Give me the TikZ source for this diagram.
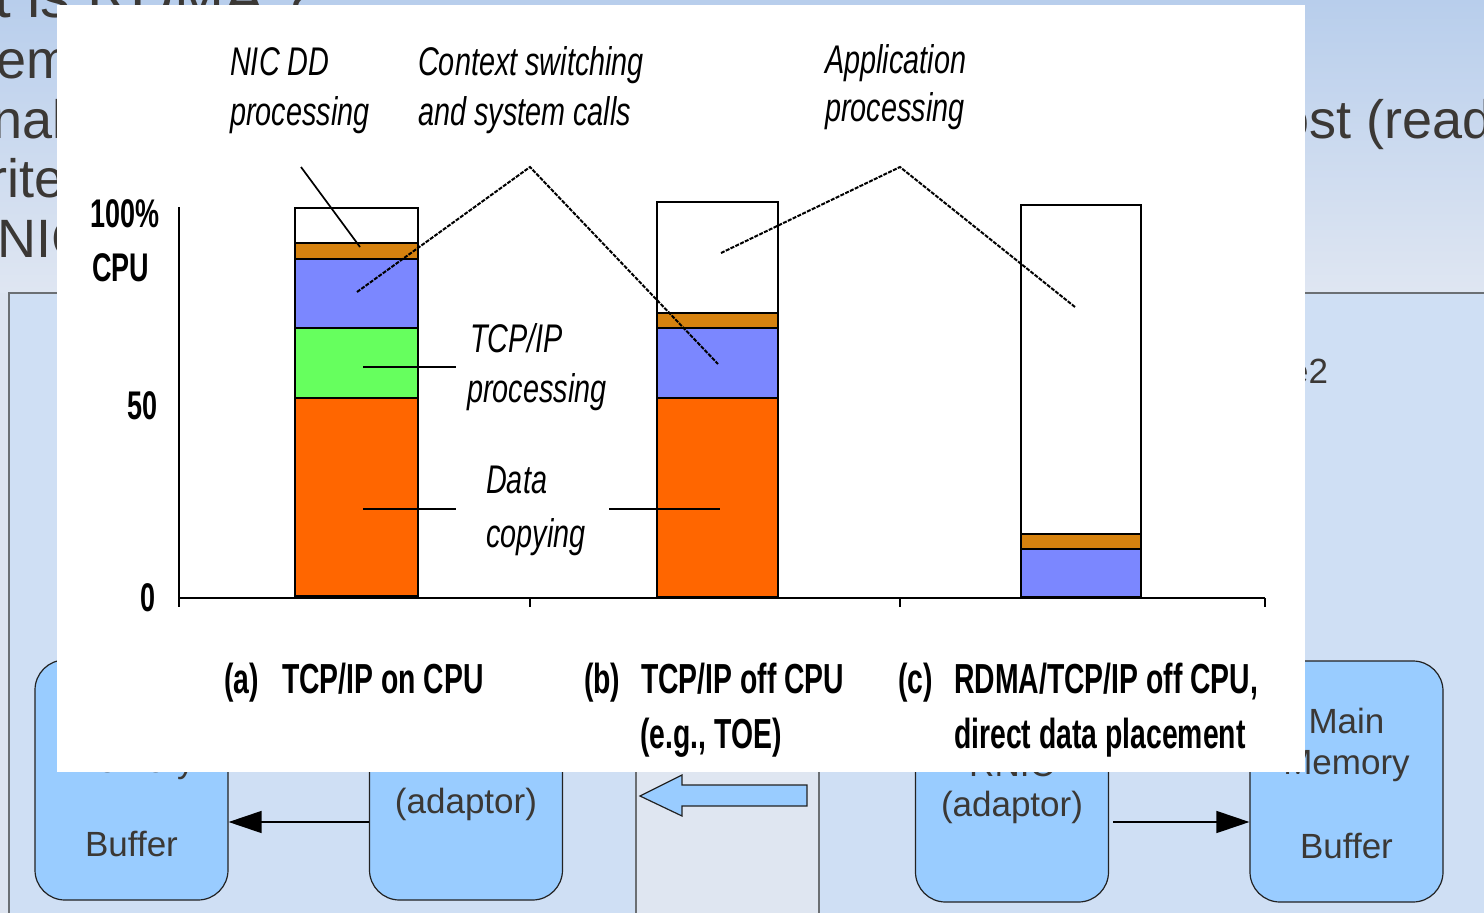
\documentclass[tikz,border=0pt]{standalone}
\usepackage{fontspec}
\setmainfont{Liberation Sans}
\newfontfamily\chartfont[FakeStretch=0.72]{Liberation Sans}
\newfontfamily\chartbf[FakeStretch=0.675]{Liberation Sans}
\usetikzlibrary{arrows.meta}

\definecolor{bgtop}{HTML}{B8CEEC}
\definecolor{bgbot}{HTML}{DFE6F2}
\definecolor{panel}{HTML}{CFDFF4}
\definecolor{sidestrip}{HTML}{DDE4F0}
\definecolor{midstrip}{HTML}{DFE6F1}
\definecolor{rulegray}{HTML}{6B6F73}
\definecolor{slidegray}{HTML}{3B3835}
\definecolor{boxblue}{HTML}{99CCFF}
\definecolor{boxline}{HTML}{222222}
\definecolor{segorange}{HTML}{D6820F}
\definecolor{segblue}{HTML}{7B87FF}
\definecolor{seggreen}{HTML}{66FF5E}
\definecolor{segred}{HTML}{FF6600}

\begin{document}
\begin{tikzpicture}[x=1pt,y=-1pt,
  slidetxt/.style={inner sep=0pt, text=slidegray, anchor=base west,
    font=\fontsize{54}{60}\selectfont},
  titletxt/.style={inner sep=0pt, text=slidegray, anchor=base west,
    font=\fontsize{60}{66}\selectfont},
  boxtxt/.style={inner sep=0pt, text=slidegray, anchor=base,
    font=\fontsize{35}{40}\selectfont},
  membox/.style={draw=boxline, fill=boxblue, line width=1.2pt,
    rounded corners=30pt, minimum width=193pt, minimum height=240pt,
    inner sep=0pt},
  flowarrow/.style={draw=black, line width=1.3pt,
    -{Triangle[length=33pt,width=22pt]}},
  itlabel/.style={inner sep=0pt, anchor=base west,
    font=\chartfont\itshape\fontsize{40}{44}\selectfont},
  bflabel/.style={inner sep=0pt, anchor=base west,
    font=\chartbf\bfseries\fontsize{42}{46}\selectfont},
  axislabel/.style={inner sep=0pt, anchor=base east,
    font=\chartbf\bfseries\fontsize{40}{44}\selectfont},
  seg/.style={draw=black, line width=2pt},
  axisline/.style={draw=black, line width=2.2pt},
  leader/.style={draw=black, line width=1.7pt},
  dleader/.style={draw=black, line width=2pt, dash pattern=on 4pt off 1.3pt}
]
\useasboundingbox (0,0) rectangle (1484,913);

% ---------- slide background ----------
\shade[top color=bgtop, bottom color=bgbot] (0,0) rectangle (1484,293);
\fill[sidestrip] (0,293) rectangle (9,913);
\fill[panel] (9,293) rectangle (1484,913);
\draw[rulegray, line width=2pt] (9,913) -- (9,293) -- (1484,293);

% central strip between the two machines
\fill[midstrip] (636,700) rectangle (819,913);
\draw[rulegray, line width=1.6pt] (636,700) -- (636,913);
\draw[rulegray, line width=1.6pt] (819,700) -- (819,913);

% ---------- slide body text ----------
\node[titletxt] (title) at (-6,17) {t is RDMA ?};
\node[slidetxt] (l1) at (-4,78) {em};
\node[slidetxt] (l2) at (-8,138) {nal};
\node[slidetxt] (l3) at (-11,197) {rite};
\node[slidetxt] (l4) at (-3,257) {NIC};
\node[slidetxt] (r2) at (1279,138) {ost (read};
\node[slidetxt, font=\fontsize{35}{40}\selectfont] (m2) at (1289,383) {e2};

% ---------- memory / adaptor boxes ----------
\node[membox] (buf1) at (131.5,780) {};
\node[membox] (nic1) at (466,780) {};
\node[membox, minimum height=242pt] (nic2) at (1012,781) {};
\node[membox, minimum height=241pt] (buf2) at (1346.5,781.5) {};

\node[boxtxt] (buf1a) at (131.5,772) {Memory};
\node[boxtxt] (buf1b) at (131.5,856) {Buffer};
\node[boxtxt] (nic1a) at (466,813) {(adaptor)};
\node[boxtxt] (nic2a) at (1012,776) {RNIC};
\node[boxtxt] (nic2b) at (1012,816) {(adaptor)};
\node[boxtxt] (buf2a) at (1346.5,733) {Main};
\node[boxtxt] (buf2b) at (1346.5,774) {Memory};
\node[boxtxt] (buf2c) at (1346.5,858) {Buffer};

\draw[flowarrow] ([yshift=-42pt]nic1.west) -- ([yshift=-42pt]buf1.east);
\draw[flowarrow] ([yshift=-41pt,xshift=4pt]nic2.east) -- ([yshift=-40.5pt]buf2.west);

% transfer direction between the hosts
\draw[fill=boxblue, draw=boxline, line width=1.2pt]
  (640,796) -- (682,775) -- (682,785) -- (807,785) -- (807,806)
  -- (682,806) -- (682,816) -- cycle;

% ---------- CPU usage chart ----------
\fill[white] (57,5) rectangle (1305,772);

% axes
\draw[axisline] (179,207) -- (179,607);
\draw[axisline] (179,598) -- (1265,598);
\foreach \tx in {530,900,1265}
  \draw[axisline] (\tx,598) -- (\tx,607);

\node[axislabel] (y100) at (160,227) {100\%};
\node[bflabel, font=\chartbf\bfseries\fontsize{40}{44}\selectfont] (ycpu) at (92,281) {CPU};
\node[axislabel] (y50) at (158,419) {50};
\node[axislabel] (y0) at (156,611) {0};

% bar (a): TCP/IP on CPU
\filldraw[seg, fill=white]      (295,208) rectangle (418,243);
\filldraw[seg, fill=segorange]  (295,243) rectangle (418,259);
\filldraw[seg, fill=segblue]    (295,259) rectangle (418,328);
\filldraw[seg, fill=seggreen]   (295,328) rectangle (418,398);
\filldraw[seg, fill=segred]     (295,398) rectangle (418,596);

% bar (b): TCP/IP off CPU
\filldraw[seg, fill=white]      (657,202) rectangle (778,313);
\filldraw[seg, fill=segorange]  (657,313) rectangle (778,328);
\filldraw[seg, fill=segblue]    (657,328) rectangle (778,398);
\filldraw[seg, fill=segred]     (657,398) rectangle (778,597);

% bar (c): RDMA/TCP/IP off CPU
\filldraw[seg, fill=white]      (1021,205) rectangle (1141,534);
\filldraw[seg, fill=segorange]  (1021,534) rectangle (1141,549);
\filldraw[seg, fill=segblue]    (1021,549) rectangle (1141,597);

% leader lines from the labels to the bar segments
\coordinate (nicTop) at (301,167);
\coordinate (nicEnd) at (360,247);
\coordinate (ctxA) at (357,292);
\coordinate (ctxApex) at (530,167);
\coordinate (ctxB) at (718,364);
\coordinate (appA) at (721,253);
\coordinate (appApex) at (900,167);
\coordinate (appB) at (1075,307);
\coordinate (tcpA) at (363,367);
\coordinate (tcpB) at (456,367);
\coordinate (dcA) at (363,509);
\coordinate (dcB) at (456,509);
\coordinate (dcC) at (609,509);
\coordinate (dcD) at (720,509);

\draw[leader] (nicTop) -- (nicEnd);
\draw[dleader] (ctxA) -- (ctxApex) -- (ctxB);
\draw[dleader] (appA) -- (appApex) -- (appB);
\draw[leader] (tcpA) -- (tcpB);
\draw[leader] (dcA) -- (dcB);
\draw[leader] (dcC) -- (dcD);

% segment labels
\node[itlabel] (nicL1) at (230,75) {NIC DD};
\node[itlabel] (nicL2) at (230,125) {processing};
\node[itlabel] (ctxL1) at (418,75) {Context switching};
\node[itlabel] (ctxL2) at (418,125) {and system calls};
\node[itlabel] (appL1) at (825,73) {Application};
\node[itlabel] (appL2) at (825,121) {processing};
\node[itlabel] (tcpL1) at (470,352) {TCP/IP};
\node[itlabel] (tcpL2) at (467,402) {processing};
\node[itlabel] (dcL1) at (486,493) {Data};
\node[itlabel] (dcL2) at (486,547) {copying};

% category labels
\node[bflabel] (catA) at (224,693) {(a)};
\node[bflabel] (catAt) at (282,693) {TCP/IP on CPU};
\node[bflabel] (catB) at (584,693) {(b)};
\node[bflabel] (catBt) at (641,693) {TCP/IP off CPU};
\node[bflabel] (catBu) at (640,748) {(e.g., TOE)};
\node[bflabel] (catC) at (898,693) {(c)};
\node[bflabel] (catCt) at (954,693) {RDMA/TCP/IP off CPU,};
\node[bflabel] (catCu) at (954,748) {direct data placement};
\end{tikzpicture}
\end{document}
